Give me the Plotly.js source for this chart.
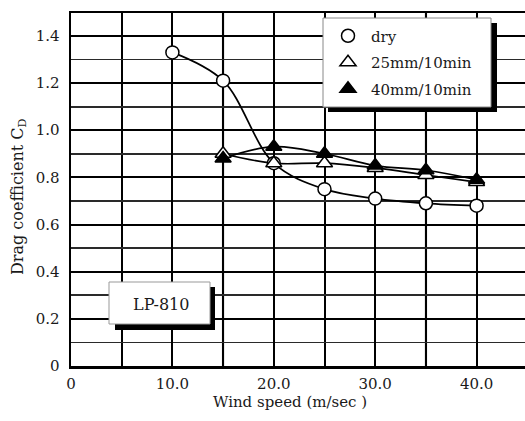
<!DOCTYPE html>
<html><head><meta charset="utf-8">
<script src="https://cdn.plot.ly/plotly-3.0.1.min.js"></script>
<style>html,body{margin:0;padding:0;overflow:hidden;background:#fff}#chart{width:535px;height:421px}</style>
</head><body><div id="chart"></div>
<script>
// ---- data ----
const windDry = [10, 15, 20, 25, 30, 35, 40];
const cdDry   = [1.33, 1.21, 0.86, 0.75, 0.71, 0.69, 0.68];
const wind25  = [15, 20, 25, 30, 35, 40];
const cd25    = [0.90, 0.86, 0.86, 0.84, 0.81, 0.78];
const wind40  = [15, 20, 25, 30, 35, 40];
const cd40    = [0.88, 0.93, 0.90, 0.85, 0.83, 0.79];
const seriesNames = ['dry', '25mm/10min', '40mm/10min'];
const xTickVals = [0, 10, 20, 30, 40];
const xTickText = ['0', '10.0', '20.0', '30.0', '40.0'];
const xLightGrid = [15, 35];
const yTickVals = [0, 0.2, 0.4, 0.6, 0.8, 1.0, 1.2, 1.4];
const yTickText = ['0', '0.2', '0.4', '0.6', '0.8', '1.0', '1.2', '1.4'];
const xTitle = 'Wind speed (m/sec )';
const yTitle = 'Drag coefficient C<sub>D</sub>';
const boxLabel = 'LP-810';

// ---- geometry (pixels) ----
const L = 71, T = 13, W = 464, H = 353;
const px = p => (p - L) / W;
const py = p => (T + H - p) / H;
const FONT = 'DejaVu Serif';
const TXT = '#1a1a1a';

function lineTrace(x, y, smoothing) {
  return {x, y, mode: 'lines', line: {color: '#000', width: 1.7, shape: 'spline', smoothing},
          showlegend: false, hoverinfo: 'skip'};
}
function markerTrace(x, y, name, symbol, fill, size) {
  return {x, y, name, mode: 'markers', legendgroup: name,
          marker: {symbol, size, color: fill, line: {color: '#000', width: 1.5}}};
}

const data = [
  lineTrace(windDry, cdDry, 1.0),
  lineTrace(wind25, cd25, 1.1),
  lineTrace(wind40, cd40, 1.1),
  markerTrace(windDry, cdDry, seriesNames[0], 'circle', '#fff', 13),
  markerTrace(wind25, cd25, seriesNames[1], 'triangle-up', '#fff', 14),
  markerTrace(wind40, cd40, seriesNames[2], 'triangle-up', '#000', 14)
];

function rect(x0, y0, x1, y1, fill, lineColor) {
  return {type: 'rect', xref: 'paper', yref: 'paper', layer: 'above',
          x0: px(x0), x1: px(x1), y0: py(y1), y1: py(y0),
          fillcolor: fill, line: {color: lineColor || fill, width: lineColor ? 1 : 0}};
}
const lightGridShapes = xLightGrid.map(v => ({
  type: 'line', xref: 'x', yref: 'paper', x0: v, x1: v, y0: 0, y1: 1,
  layer: 'between', line: {color: '#c8c8c8', width: 2.6}
}));

const layout = {
  width: 535, height: 421,
  margin: {l: L, r: 0, t: T, b: 421 - T - H},
  paper_bgcolor: '#fff', plot_bgcolor: '#fff',
  font: {family: FONT, size: 15, color: TXT},
  showlegend: true,
  legend: {x: px(325), y: py(19.5), xanchor: 'left', yanchor: 'top',
           bgcolor: 'rgba(0,0,0,0)', borderwidth: 0, tracegroupgap: 4,
           itemwidth: 36, font: {family: FONT, size: 15, color: TXT}},
  xaxis: {range: [0, 45.76], tickmode: 'array', tickvals: xTickVals, ticktext: xTickText,
          showgrid: true, gridcolor: '#000', gridwidth: 2, zeroline: false,
          showline: true, linecolor: '#000', linewidth: 2.5, mirror: true, ticks: '',
          ticklabelstandoff: 2,
          minor: {dtick: 5, showgrid: true, gridcolor: '#000', gridwidth: 2},
          fixedrange: true},
  yaxis: {range: [0, 1.497], tickmode: 'array', tickvals: yTickVals, ticktext: yTickText,
          showgrid: true, gridcolor: '#000', gridwidth: 2, zeroline: false,
          showline: true, linecolor: '#000', linewidth: 2.5, mirror: true, ticks: '',
          ticklabelstandoff: 6,
          minor: {dtick: 0.1, showgrid: true, gridcolor: '#2a2a2a', gridwidth: 1.8},
          fixedrange: true},
  shapes: lightGridShapes.concat([
    rect(328, 23, 497, 112, '#000'),
    rect(323, 18, 491, 107, '#fff', '#888'),
    rect(115, 287, 215, 330, '#000'),
    rect(109, 282, 210, 324, '#fff', '#999')
  ]),
  annotations: [
    {text: boxLabel, xref: 'paper', yref: 'paper', x: px(161), y: py(304),
     xanchor: 'center', yanchor: 'middle', showarrow: false, font: {family: FONT, size: 16, color: TXT}},
    {text: xTitle, xref: 'paper', yref: 'paper', x: px(290), y: py(402),
     xanchor: 'center', yanchor: 'middle', showarrow: false, font: {family: FONT, size: 15, color: TXT}},
    {text: yTitle, xref: 'paper', yref: 'paper', x: px(18), y: py(197),
     xanchor: 'center', yanchor: 'middle', textangle: -90, showarrow: false, font: {family: FONT, size: 16, color: TXT}}
  ]
};

Plotly.newPlot('chart', data, layout, {staticPlot: true, displayModeBar: false});
</script></body></html>
